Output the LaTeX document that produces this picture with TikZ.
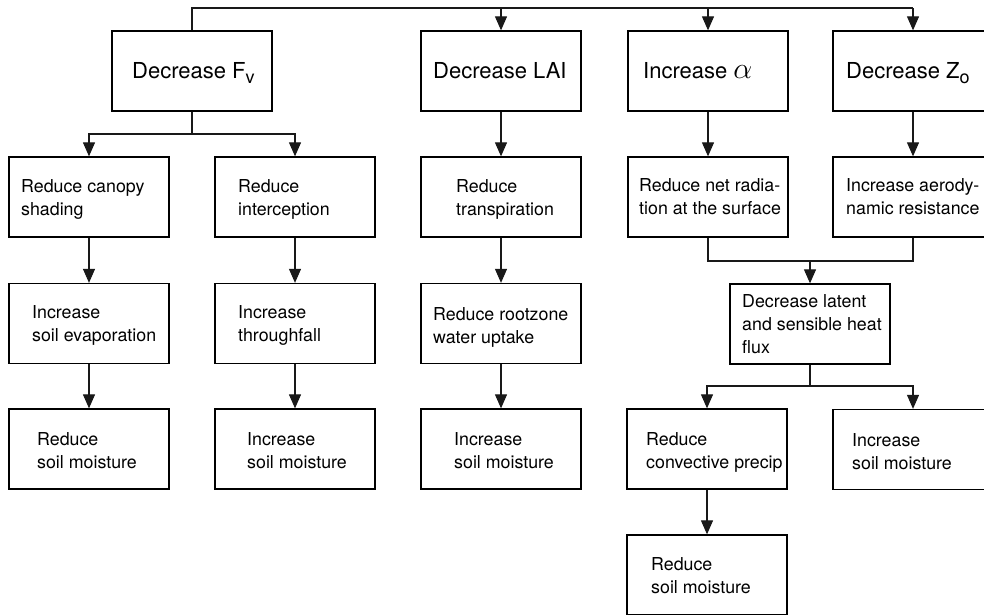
\documentclass[tikz,border=0pt]{standalone}
\usepackage{fontspec}
\setmainfont{TeX Gyre Heros}
\usetikzlibrary{arrows.meta,calc}

\tikzset{
  box/.style={draw=black, line width=1.3pt, minimum width=160pt,
    minimum height=80pt, inner sep=0pt},
  lbl/.style={anchor=north west, inner sep=0pt, align=left,
    font=\fontsize{17.8}{23}\selectfont},
  biglbl/.style={anchor=north west, inner sep=0pt, align=left,
    font=\fontsize{22}{26}\selectfont},
  conn/.style={draw=black!90, line width=1.1pt},
  arr/.style={conn, -{Triangle[length=14pt,width=12pt]}}
}
\newcommand{\lowsub}[1]{\raisebox{-5pt}{\fontsize{18}{18}\selectfont #1}}

\begin{document}
\begin{tikzpicture}[x=1pt,y=-1pt]
  \useasboundingbox (0,0) rectangle (984,614);
  \clip (0,0) rectangle (984,614);

  % first row: the four land-surface changes
  \node[box] (fv)    at (192,71)   {};
  \node[box] (lai)   at (501,71)   {};
  \node[box] (alpha) at (708,71)   {};
  \node[box] (zo)    at (913,71)   {};

  % second row
  \node[box] (canopy) at (89,197)    {};
  \node[box] (intc)   at (295,197)   {};
  \node[box] (transp) at (501,197)   {};
  \node[box] (netrad) at (708,197)   {};
  \node[box] (aero)   at (913,197)   {};

  % third row
  \node[box] (evap)   at (89,323.5)  {};
  \node[box] (thru)   at (295,323.5) {};
  \node[box] (root)   at (501,323.5) {};
  \node[box] (latent) at (810,324)   {};

  % fourth row and below
  \node[box] (smA)  at (89,449)    {};
  \node[box] (smB)  at (295,449)   {};
  \node[box] (smC)  at (501,449)   {};
  \node[box] (conv) at (707,449)   {};
  \node[box] (smD)  at (913,449.5) {};
  \node[box] (smE)  at (707,575)   {};

  % box texts
  \node[biglbl] (fvT)    at (132,62) {Decrease F\lowsub{v}};
  \node[biglbl] (laiT)   at (433,62) {Decrease LAI};
  \node[biglbl] (alphaT) at (643,62) {Increase \scalebox{1.45}{$\alpha$}};
  \node[biglbl] (zoT)    at (846,62) {Decrease Z\lowsub{o}};

  \node[lbl] (canopyT) at (21,179)  {Reduce canopy\\shading};
  \node[lbl] (intcT)   at (238,179) {Reduce\\interception};
  \node[lbl] (transpT) at (456,179) {Reduce\\transpiration};
  \node[lbl] (netradT) at (639,178) {Reduce net radia-\\tion at the surface};
  \node[lbl] (aeroT)   at (846,178) {Increase aerody-\\namic resistance};

  \node[lbl] (evapT)   at (32,305)  {Increase\\soil evaporation};
  \node[lbl] (thruT)   at (238,305) {Increase\\throughfall};
  \node[lbl] (rootT)   at (433,307) {Reduce rootzone\\water uptake};
  \node[lbl] (latentT) at (742,294) {Decrease latent\\and sensible heat\\flux};

  \node[lbl] (smAT)  at (37,432)  {Reduce\\soil moisture};
  \node[lbl] (smBT)  at (247,432) {Increase\\soil moisture};
  \node[lbl] (smCT)  at (454,432) {Increase\\soil moisture};
  \node[lbl] (convT) at (646,432) {Reduce\\convective precip};
  \node[lbl] (smDT)  at (852,433) {Increase\\soil moisture};
  \node[lbl] (smET)  at (651,557) {Reduce\\soil moisture};

  % top bus from the first box to the other three
  \coordinate (bus) at (0,8);
  \draw[conn] (fv.north) -- (fv.north |- bus) -- (zo.north |- bus);
  \draw[arr] (lai.north |- bus) -- (lai.north);
  \draw[arr] (alpha.north |- bus) -- (alpha.north);
  \draw[arr] (zo.north |- bus) -- (zo.north);

  % branch below the first box
  \coordinate (fvsplit) at (192,134);
  \draw[conn] (fv.south) -- (fvsplit);
  \draw[arr] (fvsplit) -| (canopy.north);
  \draw[arr] (fvsplit) -| (intc.north);

  % straight chains
  \draw[arr] (canopy.south) -- (evap.north);
  \draw[arr] (evap.south) -- (smA.north);
  \draw[arr] (intc.south) -- (thru.north);
  \draw[arr] (thru.south) -- (smB.north);
  \draw[arr] (lai.south) -- (transp.north);
  \draw[arr] (transp.south) -- (root.north);
  \draw[arr] (root.south) -- (smC.north);
  \draw[arr] (alpha.south) -- (netrad.north);
  \draw[arr] (zo.south) -- (aero.north);
  \draw[arr] (conv.south) -- (smE.north);

  % merge into the heat-flux box
  \coordinate (merge) at (810,261);
  \draw[conn] (netrad.south) |- (merge) -| (aero.south);
  \draw[arr] (merge) -- (latent.north);

  % split below the heat-flux box
  \coordinate (hsplit) at (810,386);
  \draw[conn] (latent.south) -- (hsplit);
  \draw[arr] (hsplit) -| (conv.north);
  \draw[arr] (hsplit) -| (smD.north);
\end{tikzpicture}
\end{document}
